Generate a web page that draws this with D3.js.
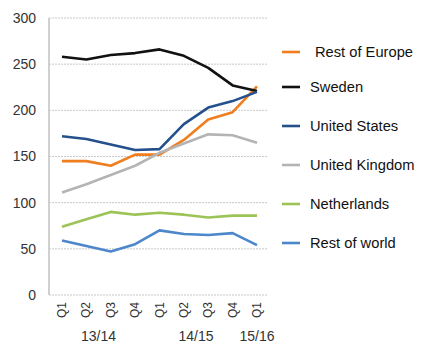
<!DOCTYPE html>
<html>
<head>
<meta charset="utf-8">
<script src="https://cdn.jsdelivr.net/npm/d3@7"></script>
<style>
  body { margin: 0; background: #fff; }
  svg text { font-family: "Liberation Sans", Arial, sans-serif; }
</style>
</head>
<body>
<svg id="chart" width="424" height="345"></svg>
<script>
// Quarterly categories and fiscal-year group labels
const quarters = ["Q1", "Q2", "Q3", "Q4", "Q1", "Q2", "Q3", "Q4", "Q1"];
const yearLabels = ["13/14", "14/15", "15/16"];
const yearAt = [1.5, 5.5, 8];   // quarter positions the year labels sit under
const yTicks = [0, 50, 100, 150, 200, 250, 300];

// Series values per quarter
const restOfEurope   = [145, 145, 140, 152, 152, 168, 190, 198, 226];
const sweden         = [258, 255, 260, 262, 266, 259, 246, 227, 221];
const unitedStates   = [172, 169, 163, 157, 158, 185, 203, 210, 220];
const unitedKingdom  = [111, 120, 130, 140, 154, 164, 174, 173, 165];
const netherlands    = [74, 82, 90, 87, 89, 87, 84, 86, 86];
const restOfWorld    = [59, 53, 47, 55, 70, 66, 65, 67, 54];

const seriesNames  = ["Rest of Europe", "Sweden", "United States", "United Kingdom", "Netherlands", "Rest of world"];
const seriesValues = [restOfEurope, sweden, unitedStates, unitedKingdom, netherlands, restOfWorld];
const seriesColors = ["#f07d1e", "#111111", "#24508c", "#b4b4b4", "#9cc356", "#4d87cb"];

const svg = d3.select("#chart");

const x = d3.scaleLinear().domain([0, quarters.length - 1]).range([62, 257]);
const y = d3.scaleLinear().domain([0, 300]).range([295, 18]);

// Dotted horizontal gridlines
svg.append("g").selectAll("line").data(yTicks).join("line")
  .attr("x1", 49).attr("x2", 268)
  .attr("y1", d => y(d)).attr("y2", d => y(d))
  .attr("stroke", "#c8c8c8").attr("stroke-width", 1)
  .attr("stroke-dasharray", "2,1");

// Vertical axis line
svg.append("line")
  .attr("x1", 49).attr("x2", 49)
  .attr("y1", y(300)).attr("y2", y(0))
  .attr("stroke", "#c0c0c0").attr("stroke-width", 1.5);

// Y tick labels
const yAxis = d3.axisLeft(y).tickValues(yTicks).tickSize(0).tickPadding(13);
const gy = svg.append("g").attr("transform", "translate(49,0)").call(yAxis);
gy.select(".domain").remove();
gy.selectAll("text").attr("font-size", 14).attr("fill", "#333")
  .attr("font-family", "Liberation Sans, Arial, sans-serif");

// Rotated quarter labels
svg.append("g").selectAll("text").data(quarters).join("text")
  .attr("transform", (d, i) => `translate(${x(i) + 4},302) rotate(-90)`)
  .attr("text-anchor", "end")
  .attr("font-size", 12).attr("fill", "#333")
  .text(d => d);

// Fiscal year labels
svg.append("g").selectAll("text").data(yearLabels).join("text")
  .attr("x", (d, i) => x(yearAt[i]))
  .attr("y", 341)
  .attr("text-anchor", "middle")
  .attr("font-size", 14).attr("fill", "#333")
  .text(d => d);

// Series lines
const line = d3.line().x((d, i) => x(i)).y(d => y(d)).curve(d3.curveLinear);
svg.append("g").selectAll("path").data(seriesValues).join("path")
  .attr("d", d => line(d))
  .attr("fill", "none")
  .attr("stroke", (d, i) => seriesColors[i])
  .attr("stroke-width", 2.6)
  .attr("stroke-linejoin", "round");

// Legend
const legendY = [52, 87, 126, 165, 204, 243];
const legend = svg.append("g").selectAll("g").data(seriesNames).join("g")
  .attr("transform", (d, i) => `translate(282,${legendY[i]})`);
legend.append("line")
  .attr("x1", 0).attr("x2", 18).attr("y1", 0).attr("y2", 0)
  .attr("stroke", (d, i) => seriesColors[i]).attr("stroke-width", 2.6);
legend.append("text")
  .attr("x", (d, i) => i === 0 ? 33 : 28)
  .attr("y", 0).attr("dy", "0.35em")
  .attr("font-size", 14.7).attr("fill", "#111")
  .text(d => d);
</script>
</body>
</html>
